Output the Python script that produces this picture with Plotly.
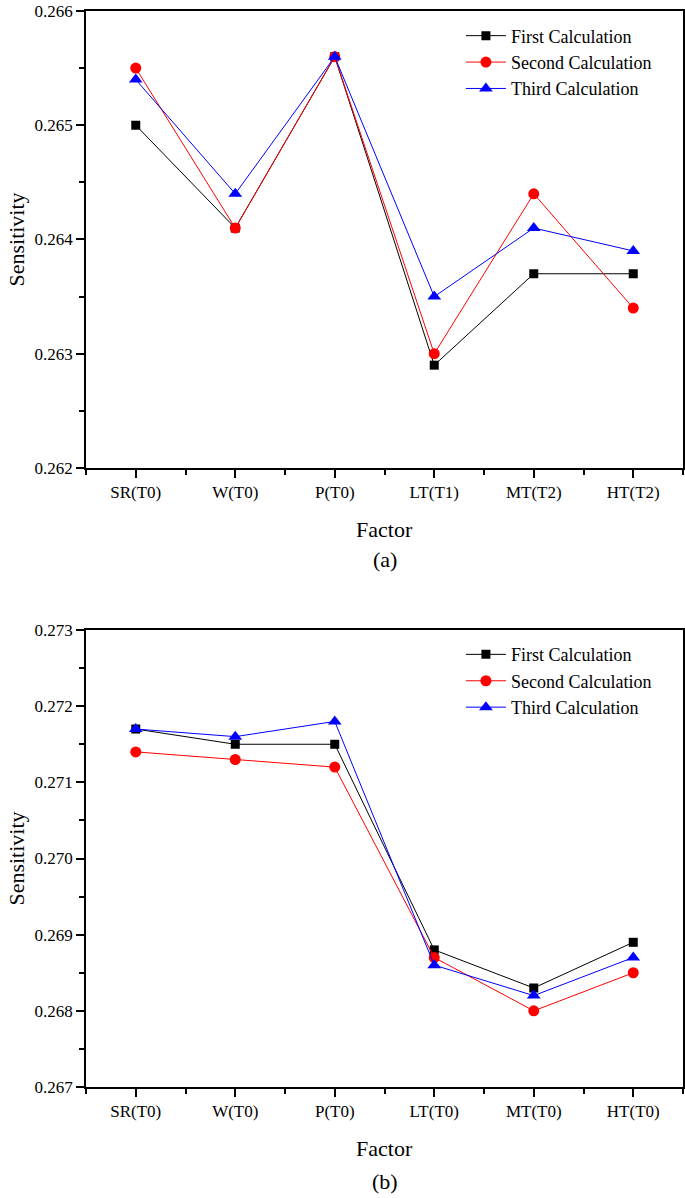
import plotly.graph_objects as go
from plotly.subplots import make_subplots

# panel (a)
factors_a = ['SR(T0)', 'W(T0)', 'P(T0)', 'LT(T1)', 'MT(T2)', 'HT(T2)']
first_a = [0.2650, 0.2641, 0.2656, 0.2629, 0.2637, 0.2637]
second_a = [0.2655, 0.2641, 0.2656, 0.2630, 0.2644, 0.2634]
third_a = [0.2654, 0.2644, 0.2656, 0.2635, 0.2641, 0.2639]

# panel (b)
factors_b = ['SR(T0)', 'W(T0)', 'P(T0)', 'LT(T0)', 'MT(T0)', 'HT(T0)']
first_b = [0.2717, 0.2715, 0.2715, 0.2688, 0.2683, 0.2689]
second_b = [0.2714, 0.2713, 0.2712, 0.2687, 0.2680, 0.2685]
third_b = [0.2717, 0.2716, 0.2718, 0.2686, 0.2682, 0.2687]

series_names = ['First Calculation', 'Second Calculation', 'Third Calculation']
colors = ['black', 'red', 'blue']
symbols = ['square', 'circle', 'triangle-up']
sizes = [9, 11, 12]

FONT = 'Liberation Serif'

fig = make_subplots(rows=2, cols=1)

idx = list(range(6))
for row, data, leg in [(1, [first_a, second_a, third_a], 'legend'),
                       (2, [first_b, second_b, third_b], 'legend2')]:
    for name, vals, c, s, sz in zip(series_names, data, colors, symbols, sizes):
        fig.add_trace(go.Scatter(
            x=idx, y=vals, name=name, mode='lines+markers',
            line=dict(color=c, width=1),
            marker=dict(symbol=s, size=sz, color=c),
            legend=leg
        ), row=row, col=1)

xcommon = dict(
    range=[-0.5, 5.5], tickvals=idx, ticks='outside', ticklen=8, tickwidth=1.5,
    tickcolor='black', showline=True, linecolor='black', linewidth=1.5,
    mirror=True, showgrid=False, zeroline=False, automargin=False,
    tickfont=dict(family=FONT, size=17, color='black'),
    minor=dict(dtick=0.5, tick0=-0.5, ticks='outside', ticklen=5, tickwidth=1.5,
               tickcolor='black', showgrid=False),
)
ycommon = dict(
    dtick=0.001, tickformat='.3f', ticks='outside', ticklen=8, tickwidth=1.5,
    tickcolor='black', showline=True, linecolor='black', linewidth=1.5,
    mirror=True, showgrid=False, zeroline=False, automargin=False,
    tickfont=dict(family=FONT, size=17, color='black'),
    title=dict(text='Sensitivity', font=dict(family=FONT, size=22, color='black'), standoff=4),
    minor=dict(dtick=0.0005, ticks='outside', ticklen=5, tickwidth=1.5,
               tickcolor='black', showgrid=False),
)

fig.update_xaxes(**xcommon)
fig.update_yaxes(**ycommon)
fig.update_xaxes(ticktext=factors_a, domain=[0, 1], row=1, col=1)
fig.update_xaxes(ticktext=factors_b, domain=[0, 1], row=2, col=1)
fig.update_yaxes(range=[0.262, 0.266], tick0=0.262, domain=[0.5753, 1], row=1, col=1)
fig.update_yaxes(range=[0.267, 0.273], tick0=0.267, domain=[0, 0.4247], row=2, col=1)

legend_style = dict(font=dict(family=FONT, size=18, color='black'),
                    bgcolor='rgba(0,0,0,0)', xanchor='left', yanchor='top',
                    tracegroupgap=0, itemwidth=40)
fig.update_layout(
    legend=dict(x=0.628, y=0.994, **legend_style),
    legend2=dict(x=0.628, y=0.419, **legend_style),
)

ann_font = dict(family=FONT, size=22, color='black')
for text, y in [('Factor', 0.5177), ('(a)', 0.4898), ('Factor', -0.0567), ('(b)', -0.0874)]:
    fig.add_annotation(text=text, x=0.5, y=y, xref='paper', yref='paper',
                       showarrow=False, font=ann_font, yanchor='middle')

fig.update_layout(
    width=685, height=1198,
    margin=dict(l=86, r=2, t=11, b=111),
    plot_bgcolor='white', paper_bgcolor='white',
    font=dict(family=FONT, color='black'),
)

fig.write_html("out.html", config={'displayModeBar': False},
               post_script="document.body.style.margin='0';")
